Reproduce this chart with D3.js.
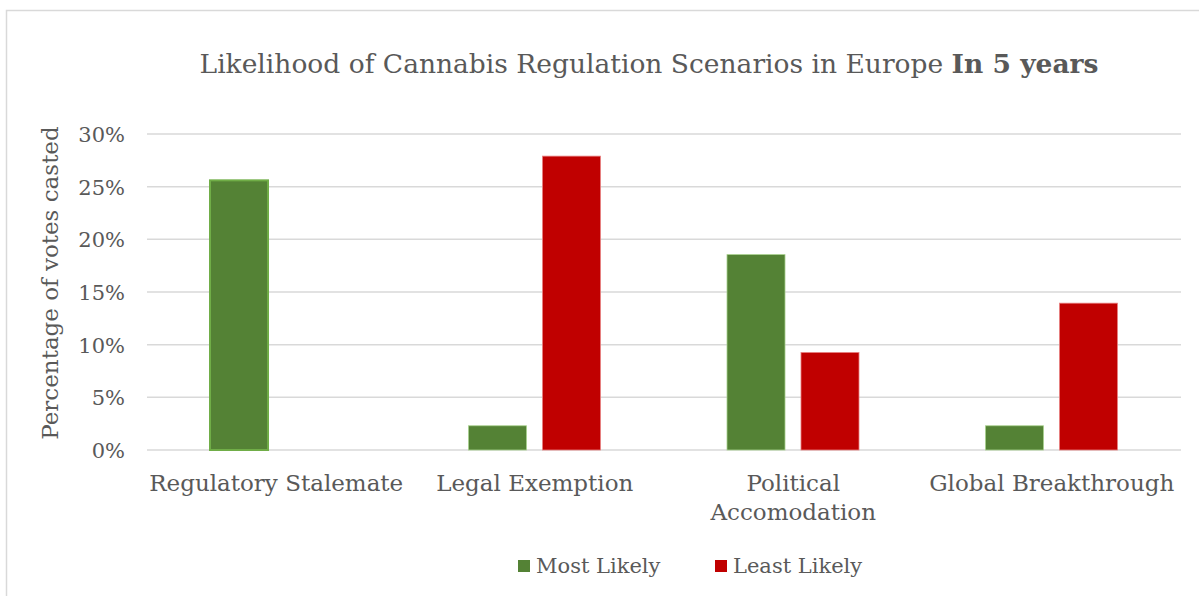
<!DOCTYPE html>
<html>
<head>
<meta charset="utf-8">
<script src="https://cdn.jsdelivr.net/npm/d3@7"></script>
<style>
  html, body { margin: 0; padding: 0; background: #fff; }
  svg { display: block; }
  text { font-family: "DejaVu Serif", serif; fill: #595959; }
</style>
</head>
<body>
<svg id="chart" width="1199" height="596"></svg>
<script>
const categories = [["Regulatory Stalemate"], ["Legal Exemption"], ["Political", "Accomodation"], ["Global Breakthrough"]];
const seriesNames = ["Most Likely", "Least Likely"];
const mostLikely = [0.256, 0.023, 0.1855, 0.023];
const leastLikely = [0, 0.279, 0.0926, 0.1394];
const yTicks = [0, 0.05, 0.10, 0.15, 0.20, 0.25, 0.30];
const colors = ["#548235", "#C00000"];
const strokes = ["#A9D18E", "#E88080"];

const svg = d3.select("#chart");
const W = 1199, H = 596;
const m = { left: 147, right: 1181, top: 134, bottom: 450 };

// outer border
svg.append("rect").attr("x", 6.5).attr("y", 10.5).attr("width", W + 20).attr("height", H + 20)
  .attr("fill", "#fff").attr("stroke", "#d9d9d9").attr("stroke-width", 1.5);

const x = d3.scaleBand().domain(categories.map((c, i) => i)).range([m.left, m.right]).paddingInner(0).paddingOuter(0);
const x1 = d3.scaleBand().domain(seriesNames).range([63, 195]).paddingInner(0.216);
const y = d3.scaleLinear().domain([0, 0.30]).range([m.bottom, m.top]);

// gridlines
svg.append("g").selectAll("line").data(yTicks).join("line")
  .attr("x1", m.left).attr("x2", m.right)
  .attr("y1", d => y(d)).attr("y2", d => y(d))
  .attr("stroke", "#d9d9d9").attr("stroke-width", 1.5);

// y axis labels
const yAxis = d3.axisLeft(y).tickValues(yTicks).tickFormat(d3.format(".0%")).tickSize(0).tickPadding(0);
const ya = svg.append("g").attr("transform", `translate(${m.left - 22},0)`).call(yAxis);
ya.select(".domain").remove();
ya.selectAll("text").style("font-family", '"DejaVu Serif", serif').style("font-size", "21px").attr("fill", "#595959").attr("dy", "0.35em");

// bars
const data = categories.map((c, i) => ({ i, vals: [mostLikely[i], leastLikely[i]] }));
const g = svg.append("g");
data.forEach(d => {
  d.vals.forEach((v, s) => {
    if (v <= 0) return;
    g.append("rect")
      .attr("x", x(d.i) + x1(seriesNames[s]))
      .attr("y", y(v))
      .attr("width", x1.bandwidth())
      .attr("height", y(0) - y(v))
      .attr("fill", colors[s])
      .attr("stroke", (d.i === 0 && s === 0) ? "#70AD47" : strokes[s])
      .attr("stroke-width", (d.i === 0 && s === 0) ? 2 : 0.8);
  });
});

// x labels
const xl = svg.append("g");
categories.forEach((lines, i) => {
  const t = xl.append("text").attr("x", x(i) + x.bandwidth() / 2).attr("y", 491)
    .attr("text-anchor", "middle").style("font-size", "23px");
  lines.forEach((ln, k) => t.append("tspan").attr("x", x(i) + x.bandwidth() / 2).attr("dy", k === 0 ? 0 : 29).text(ln));
});

// y axis title
svg.append("text").attr("transform", "translate(58,283) rotate(-90)")
  .attr("text-anchor", "middle").style("font-size", "23px").text("Percentage of votes casted");

// title
const title = svg.append("text").attr("x", 649).attr("y", 73).attr("text-anchor", "middle").style("font-size", "26.5px");
title.append("tspan").text("Likelihood of Cannabis Regulation Scenarios in Europe ");
title.append("tspan").attr("font-weight", "bold").text("In 5 years");

// legend
const legX = [518, 715];
seriesNames.forEach((n, s) => {
  svg.append("rect").attr("x", legX[s]).attr("y", 560).attr("width", 12).attr("height", 12).attr("fill", colors[s]);
  svg.append("text").attr("x", legX[s] + 18).attr("y", 573).style("font-size", "21px").text(n);
});
</script>
</body>
</html>
